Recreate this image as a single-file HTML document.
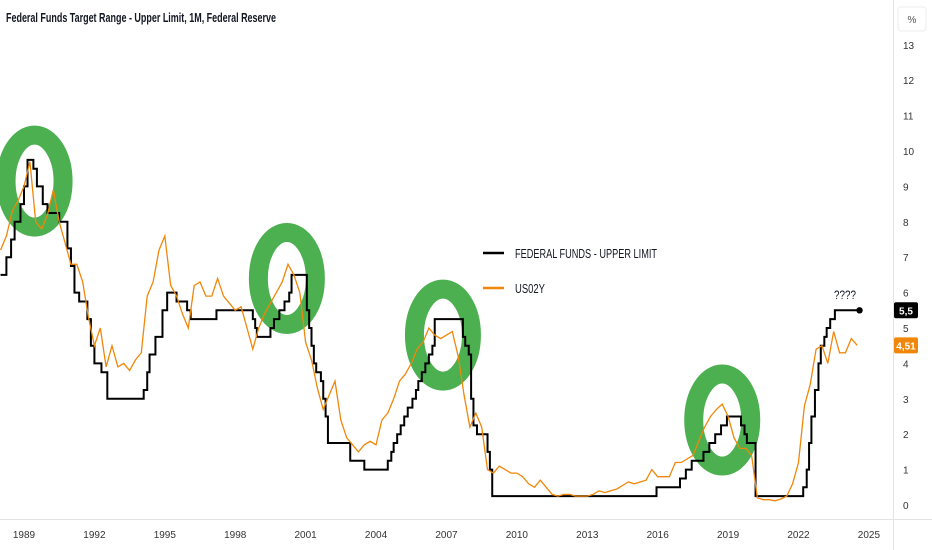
<!DOCTYPE html>
<html><head><meta charset="utf-8"><style>
html,body{margin:0;padding:0;background:#fff;}
svg{display:block;font-family:"Liberation Sans",sans-serif;}
</style></head><body>
<svg id="chart" width="932" height="550" viewBox="0 0 932 550">
<rect width="932" height="550" fill="#fff"/>
<line x1="893.5" y1="0" x2="893.5" y2="550" stroke="#e3e3e3"/>
<line x1="0" y1="519.5" x2="932" y2="519.5" stroke="#e3e3e3"/>
<text x="6" y="22" font-size="12.5" font-weight="bold" fill="#131722" textLength="270" lengthAdjust="spacingAndGlyphs">Federal Funds Target Range - Upper Limit, 1M, Federal Reserve</text>
<rect x="898" y="7" width="28" height="24" rx="3" fill="#fff" stroke="#eee"/>
<text x="912" y="23" font-size="10" text-anchor="middle" fill="#555">%</text>
<g id="rings"></g>
<g id="yticks"></g><g id="xticks"></g>
<path id="fed" fill="none" stroke="#000" stroke-width="2"/>
<path id="us2" fill="none" stroke="#f0870a" stroke-width="1.3"/>
<circle id="enddot" r="3.2" fill="#000"/>
<text x="845" y="299" font-size="12" text-anchor="middle" fill="#131722" textLength="22" lengthAdjust="spacingAndGlyphs">????</text>
<g>
<line x1="483" y1="253" x2="504" y2="253" stroke="#000" stroke-width="2.5"/>
<text x="515" y="258" font-size="13" fill="#131722" textLength="142" lengthAdjust="spacingAndGlyphs">FEDERAL FUNDS - UPPER LIMIT</text>
<line x1="483" y1="288" x2="504" y2="288" stroke="#f0870a" stroke-width="2.5"/>
<text x="515" y="293" font-size="13" fill="#131722" textLength="30" lengthAdjust="spacingAndGlyphs">US02Y</text>
</g>
<g id="lastlabels"></g>
</svg>
<script>
const yTicks=[0,1,2,3,4,5,6,7,8,9,10,11,12,13];
const xTickYears=[1989,1992,1995,1998,2001,2004,2007,2010,2013,2016,2019,2022,2025];
const fedTimes=[1988.0,1988.25,1988.45,1988.6,1988.85,1989.0,1989.15,1989.4,1989.55,1989.8,1990.0,1990.5,1990.85,1991.0,1991.15,1991.35,1991.7,1991.85,1992.0,1992.3,1992.55,1994.1,1994.25,1994.35,1994.6,1994.9,1995.1,1995.5,1995.95,1996.1,1997.2,1998.75,1998.85,1998.92,1999.5,1999.65,1999.88,2000.1,2000.3,2000.4,2001.05,2001.15,2001.25,2001.35,2001.45,2001.65,2001.75,2001.85,2001.95,2002.9,2003.5,2004.5,2004.65,2004.75,2004.9,2005.05,2005.2,2005.35,2005.55,2005.7,2005.8,2005.95,2006.1,2006.25,2006.4,2006.5,2007.7,2007.8,2007.95,2008.05,2008.15,2008.3,2008.75,2008.85,2008.95,2015.95,2016.95,2017.2,2017.45,2017.95,2018.2,2018.45,2018.7,2018.95,2019.55,2019.7,2019.8,2020.17,2022.2,2022.35,2022.45,2022.55,2022.7,2022.85,2022.95,2023.1,2023.2,2023.35,2023.55,2024.6];
const fedValues=[6.5,7.0,7.5,8.0,8.5,9.0,9.75,9.5,9.0,8.5,8.25,8.0,7.25,6.75,6.0,5.75,5.25,4.5,4.0,3.75,3.0,3.25,3.75,4.25,4.75,5.5,6.0,5.75,5.5,5.25,5.5,5.25,5.0,4.75,5.0,5.25,5.5,5.75,6.0,6.5,5.5,5.0,4.5,4.0,3.75,3.5,3.0,2.5,1.75,1.25,1.0,1.25,1.5,1.75,2.0,2.25,2.5,2.75,3.0,3.25,3.5,3.75,4.0,4.25,4.5,5.25,4.75,4.5,4.25,3.0,2.25,2.0,1.5,1.0,0.25,0.5,0.75,1.0,1.25,1.5,1.75,2.0,2.25,2.5,2.25,2.0,1.75,0.25,0.5,1.0,1.75,2.5,3.25,4.0,4.5,4.75,5.0,5.25,5.5,5.5];
const us2Start=1988.0;
const us2Values=[7.2,7.6,8.3,8.6, 9.0,9.7,8.0,7.8, 8.2,8.9,8.0,7.4, 6.8,6.8,6.3,5.3, 4.5,5.0,3.9,4.5, 3.9,4.0,3.8,4.1, 4.3,5.9,6.3,7.2, 7.6,6.2,5.9,5.4, 5.0,6.2,6.3,5.9, 5.9,6.4,5.9,5.7, 5.5,5.6,5.0,4.4, 5.0,5.4,5.7,6.0, 6.3,6.8,6.5,6.0, 4.6,4.1,3.3,2.7, 3.1,3.5,2.4,1.9, 1.7,1.5,1.7,1.8, 1.7,2.4,2.6,3.0, 3.5,3.7,4.0,4.4, 4.6,5.0,4.8,4.7, 4.8,4.9,4.2,3.1, 2.2,2.6,2.2,1.0, 0.9,1.1,1.0,0.9, 0.9,0.8,0.6,0.5, 0.7,0.5,0.3,0.25, 0.3,0.3,0.25,0.25, 0.25,0.3,0.4,0.35, 0.4,0.45,0.55,0.65, 0.6,0.65,0.7,1.0, 0.8,0.8,0.8,1.2, 1.2,1.3,1.4,1.8, 2.2,2.5,2.7,2.85, 2.5,1.9,1.6,1.6, 1.4,0.2,0.15,0.15, 0.12,0.17,0.25,0.6, 1.2,2.8,3.4,4.4, 4.5,4.0,4.9,4.3, 4.3,4.7,4.51];
const ringCenters=[[1989.45,9.15],[2000.2,6.4],[2006.85,4.8],[2018.75,2.4]];
const NS="http://www.w3.org/2000/svg";
function xScale(t){return 24+(t-1989)*23.47;}
function yScale(v){return 505-v*35.4;}
const rg=document.getElementById('rings');
ringCenters.forEach(function(c){
 const e=document.createElementNS(NS,'ellipse');
 e.setAttribute('cx',xScale(c[0]));e.setAttribute('cy',yScale(c[1]));
 e.setAttribute('rx',28.5);e.setAttribute('ry',46);
 e.setAttribute('fill','none');e.setAttribute('stroke','#4caf50');e.setAttribute('stroke-width',19);
 
 
 rg.appendChild(e);
});
const yg=document.getElementById('yticks');
yTicks.forEach(function(v){
 const t=document.createElementNS(NS,'text');
 t.setAttribute('x',903);t.setAttribute('y',yScale(v)+4);t.setAttribute('font-size',10);t.setAttribute('fill','#333');
 t.textContent=v;
 
 
 yg.appendChild(t);
});
const xg=document.getElementById('xticks');
xTickYears.forEach(function(y){
 const t=document.createElementNS(NS,'text');
 t.setAttribute('x',xScale(y));t.setAttribute('y',538);t.setAttribute('font-size',10);t.setAttribute('fill','#333');t.setAttribute('text-anchor','middle');
 t.textContent=y;
 
 
 xg.appendChild(t);
});
let d='';
for(let i=0;i<fedTimes.length;i++){
 const x=xScale(fedTimes[i]),y=yScale(fedValues[i]);
 if(i===0){d+='M'+x+' '+y;}else{d+=' H'+x+' V'+y;}
}
document.getElementById('fed').setAttribute('d',d);
const last=fedTimes.length-1;
document.getElementById('enddot').setAttribute('cx',xScale(fedTimes[last]));
document.getElementById('enddot').setAttribute('cy',yScale(fedValues[last]));
let d2='';
us2Values.forEach(function(v,i){d2+=(i?' L':'M')+xScale(us2Start+i*0.25).toFixed(1)+' '+yScale(v).toFixed(1);});
document.getElementById('us2').setAttribute('d',d2);
const lg=document.getElementById('lastlabels');
function lbl(v,bg,name){
 const y=yScale(v);
 const r=document.createElementNS(NS,'rect');
 r.setAttribute('x',894);r.setAttribute('y',y-8);r.setAttribute('width',24);r.setAttribute('height',16);r.setAttribute('rx',2);r.setAttribute('fill',bg);
 
 
 lg.appendChild(r);
 const t=document.createElementNS(NS,'text');
 t.setAttribute('x',906);t.setAttribute('y',y+4);t.setAttribute('font-size',10);t.setAttribute('font-weight','bold');t.setAttribute('fill','#fff');t.setAttribute('text-anchor','middle');
 t.textContent=String(v).replace('.',',');
 
 
 lg.appendChild(t);
}
lbl(fedValues[last],'#000','fed-last');
lbl(us2Values[us2Values.length-1],'#f0870a','us02y-last');
</script>
</body></html>
